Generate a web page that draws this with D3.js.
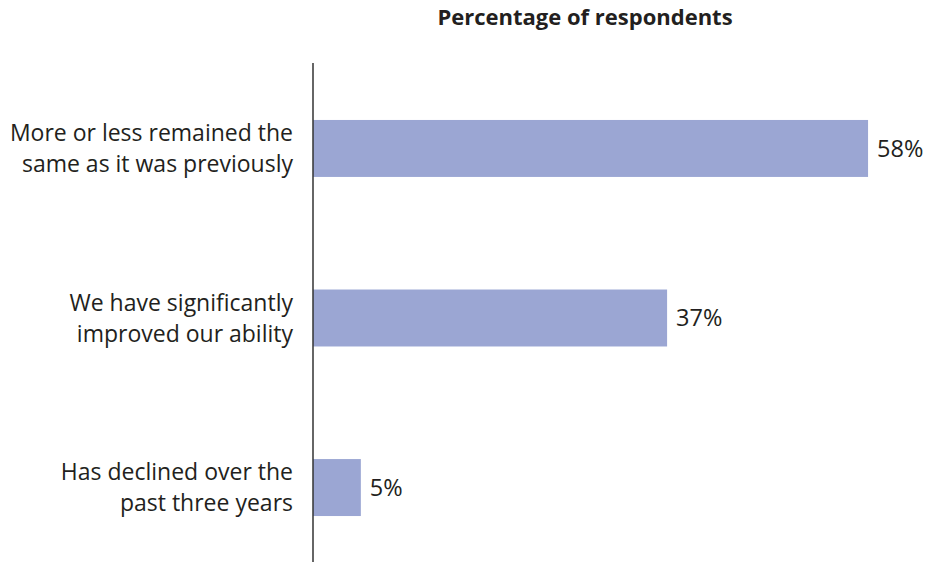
<!DOCTYPE html>
<html>
<head>
<meta charset="utf-8">
<script src="https://cdn.jsdelivr.net/npm/d3@7"></script>
<style>
  html, body { margin: 0; padding: 0; background: #fff; }
  svg { display: block; }
  text { font-family: "Open Sans", "Noto Sans", sans-serif; fill: #231f20; }
</style>
</head>
<body>
<svg id="chart" width="927" height="562"></svg>
<script>
// Survey answers, top to bottom, with the share of respondents for each
const categories = [
  ["More or less remained the", "same as it was previously"],
  ["We have significantly", "improved our ability"],
  ["Has declined over the", "past three years"]
];
const values = [58, 37, 5];
const valueLabels = ["58%", "37%", "5%"];
const title = "Percentage of respondents";

const svg = d3.select("#chart");
const x0 = 313;

const x = d3.scaleLinear().domain([0, 100]).range([x0, x0 + 957]);
const y = d3.scaleBand()
  .domain(d3.range(values.length))
  .range([63, 573])
  .paddingInner(0.664)
  .paddingOuter(0.336);

// Title
svg.append("text")
  .attr("x", 585)
  .attr("y", 25)
  .attr("text-anchor", "middle")
  .style("font-weight", "bold")
  .style("font-size", "22px")
  .text(title);

// Bars
svg.append("g").selectAll("rect")
  .data(values)
  .join("rect")
  .attr("x", x(0))
  .attr("y", (d, i) => y(i))
  .attr("width", d => x(d) - x(0))
  .attr("height", y.bandwidth())
  .attr("fill", "#9ba6d3");

// Value labels
svg.append("g").selectAll("text")
  .data(values)
  .join("text")
  .attr("x", d => x(d) + 9)
  .attr("y", (d, i) => y(i) + y.bandwidth() / 2)
  .attr("dy", "0.35em")
  .style("font-size", "23.5px")
  .text((d, i) => valueLabels[i]);

// Category labels (two lines, right-aligned against the axis)
const cat = svg.append("g").selectAll("text")
  .data(categories)
  .join("text")
  .attr("text-anchor", "end")
  .style("font-size", "23px")
  .attr("transform", (d, i) => `translate(${x0 - 20},${y(i) + y.bandwidth() / 2})`);
cat.selectAll("tspan")
  .data(d => d)
  .join("tspan")
  .attr("x", 0)
  .attr("y", (d, j) => (j - 0.5) * 31)
  .attr("dy", "0.35em")
  .text(d => d);

// Vertical axis line
svg.append("line")
  .attr("x1", x0).attr("x2", x0)
  .attr("y1", 63).attr("y2", 562)
  .attr("stroke", "#333")
  .attr("stroke-width", 1.5);
</script>
</body>
</html>
